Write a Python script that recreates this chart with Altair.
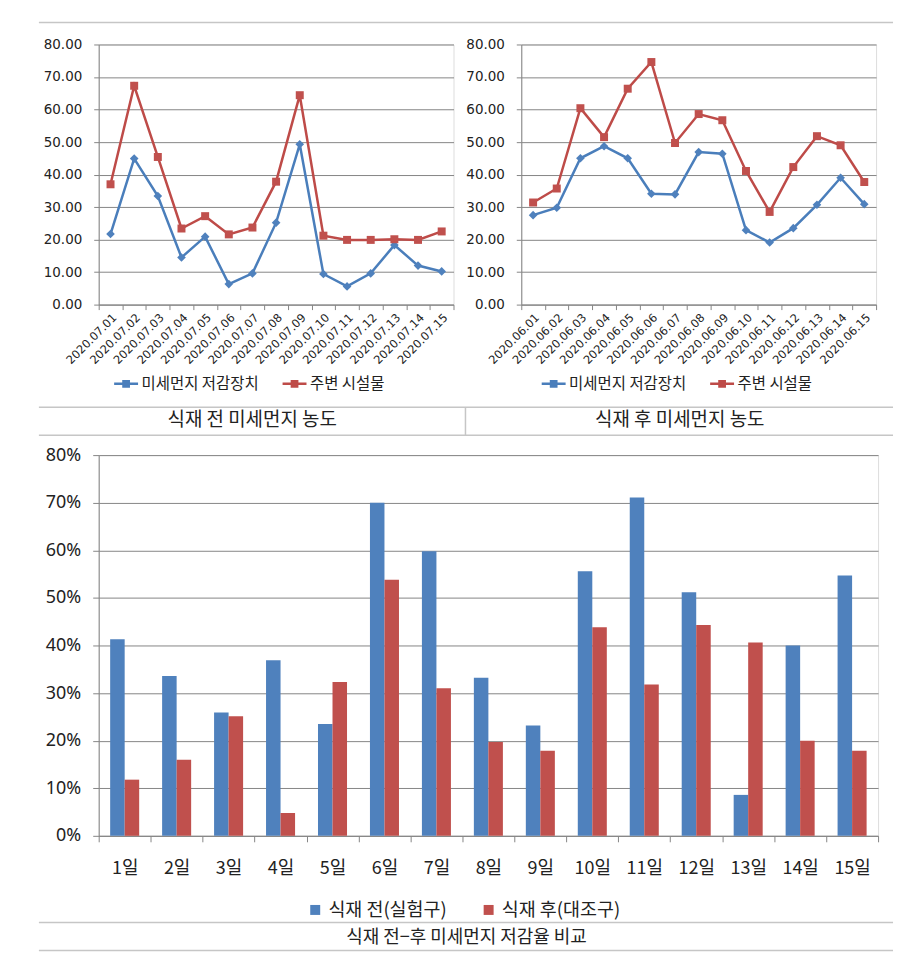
import altair as alt
import pandas as pd

# ---------------- data ----------------
july_dates = ["2020.07.01", "2020.07.02", "2020.07.03", "2020.07.04", "2020.07.05",
              "2020.07.06", "2020.07.07", "2020.07.08", "2020.07.09", "2020.07.10",
              "2020.07.11", "2020.07.12", "2020.07.13", "2020.07.14", "2020.07.15"]
july_device = [21.7, 44.9, 33.4, 14.5, 20.9, 6.3, 9.6, 25.2, 49.3, 9.4, 5.6, 9.6, 18.3, 12.0, 10.2]
july_nearby = [37.0, 67.3, 45.4, 23.4, 27.2, 21.6, 23.7, 37.8, 64.4, 21.2, 19.9, 19.9, 20.1, 19.9, 22.5]

june_dates = ["2020.06.01", "2020.06.02", "2020.06.03", "2020.06.04", "2020.06.05",
              "2020.06.06", "2020.06.07", "2020.06.08", "2020.06.09", "2020.06.10",
              "2020.06.11", "2020.06.12", "2020.06.13", "2020.06.14", "2020.06.15"]
june_device = [27.5, 29.8, 45.0, 48.7, 45.0, 34.1, 33.9, 46.9, 46.4, 22.9, 19.1, 23.5, 30.7, 39.0, 30.9]
june_nearby = [31.4, 35.7, 60.4, 51.5, 66.4, 74.6, 49.7, 58.6, 56.7, 41.1, 28.5, 42.3, 51.8, 49.0, 37.7]

line_series = ["미세먼지 저감장치", "주변 시설물"]
line_ticks = [0, 10, 20, 30, 40, 50, 60, 70, 80]

days = ["1일", "2일", "3일", "4일", "5일", "6일", "7일", "8일", "9일", "10일",
        "11일", "12일", "13일", "14일", "15일"]
bar_series = ["식재 전(실험구)", "식재 후(대조구)"]
rate_before = [41.3, 33.6, 25.9, 36.9, 23.5, 70.0, 59.8, 33.2, 23.2, 55.6, 71.1, 51.2, 8.6, 40.0, 54.7]
rate_after = [11.8, 16.0, 25.1, 4.8, 32.3, 53.8, 31.0, 19.7, 17.9, 43.8, 31.8, 44.3, 40.6, 20.0, 17.9]
bar_ticks = [0, 10, 20, 30, 40, 50, 60, 70, 80]

captions = ["식재 전 미세먼지 농도", "식재 후 미세먼지 농도", "식재 전−후 미세먼지 저감율 비교"]

# ---------------- styles ----------------
GRAY = "#868686"
SEP = "#c6c6c6"
BLUE_LINE = "#4A7EBB"
RED_LINE = "#BE4B48"
BLUE = "#4F81BD"
RED = "#C0504D"
KR = "Noto Sans CJK KR"

LEG_PATH = ("M-1,0H1M-0.22,-0.22H0.22V0.22H-0.22Z"
            "M-0.1,-0.1H0.1V0.1H-0.1Z")


def line_panel(dates, dev, near, leg_x):
    df = pd.DataFrame({
        "date": dates + dates,
        "value": dev + near,
        "series": [line_series[0]] * len(dates) + [line_series[1]] * len(dates),
    })
    x = alt.X("date:N", sort=dates,
              scale=alt.Scale(type="band", paddingInner=0, paddingOuter=0),
              axis=alt.Axis(title=None, labelAngle=315, labelAlign="right",
                            labelBaseline="top", tickBand="extent", tickSize=5,
                            labelPadding=2, labelFontSize=11.5, labelFont="DejaVu Sans",
                            labelColor="#222222", domainColor=GRAY, tickColor=GRAY,
                            grid=False))
    y = alt.Y("value:Q", scale=alt.Scale(domain=[0, 80], nice=False),
              axis=alt.Axis(title=None, values=line_ticks, format=".2f", grid=True,
                            gridColor=GRAY, domainColor=GRAY, tickColor=GRAY,
                            tickSize=5, labelPadding=12, labelFontSize=13.5,
                            labelFont="DejaVu Sans", labelColor="#222222"))
    base = alt.Chart(df)
    line = base.mark_line(strokeWidth=2.5).encode(
        x=x, y=y,
        color=alt.Color("series:N", sort=line_series,
                        scale=alt.Scale(domain=line_series, range=[BLUE_LINE, RED_LINE]),
                        legend=alt.Legend(title=None, orient="none", legendX=leg_x,
                                          legendY=327, direction="horizontal",
                                          symbolType=LEG_PATH, symbolSize=576,
                                          symbolStrokeWidth=2.5, labelFont=KR,
                                          labelFontSize=15.5, labelColor="#222222",
                                          columnPadding=18, labelOffset=2)),
    )
    p1 = base.transform_filter(alt.datum.series == line_series[0]).mark_point(
        shape="diamond", filled=True, size=75, color=BLUE, opacity=1).encode(x=x, y=y)
    p2 = base.transform_filter(alt.datum.series == line_series[1]).mark_point(
        shape="square", filled=True, size=64, color=RED, opacity=1).encode(x=x, y=y)
    return alt.layer(line, p1, p2).properties(width=356, height=261)


left = line_panel(july_dates, july_device, july_nearby, 14)
right = line_panel(june_dates, june_device, june_nearby, 19)

# ---------------- bar chart ----------------
df_bar = pd.DataFrame({
    "day": days + days,
    "rate": rate_before + rate_after,
    "group": [bar_series[0]] * len(days) + [bar_series[1]] * len(days),
})
bars = alt.Chart(df_bar).mark_bar().encode(
    x=alt.X("day:N", sort=days, scale=alt.Scale(paddingInner=0, paddingOuter=0),
            axis=alt.Axis(title=None, labelAngle=0, tickBand="extent", tickSize=6,
                          labelPadding=18, labelFontSize=18, labelFont=KR,
                          labelColor="#222222", domainColor=GRAY, tickColor=GRAY,
                          grid=False)),
    xOffset=alt.XOffset("group:N", sort=bar_series,
                        scale=alt.Scale(paddingInner=0, paddingOuter=0.79)),
    y=alt.Y("rate:Q", scale=alt.Scale(domain=[0, 80], nice=False),
            axis=alt.Axis(title=None, values=bar_ticks, labelExpr="datum.value + '%'",
                          grid=True, gridColor=GRAY, domainColor=GRAY, tickColor=GRAY,
                          tickSize=6, labelPadding=12, labelFontSize=18,
                          labelFont="Noto Sans", labelColor="#222222")),
    color=alt.Color("group:N", sort=bar_series,
                    scale=alt.Scale(domain=bar_series, range=[BLUE, RED]),
                    legend=alt.Legend(title=None, orient="none", legendX=208,
                                      legendY=447, direction="horizontal",
                                      symbolType="square", symbolSize=100,
                                      labelFont=KR, labelFontSize=18.5,
                                      labelColor="#222222", columnPadding=32,
                                      labelOffset=4)),
)

# ---------------- table-like separators and captions ----------------
one = pd.DataFrame({"k": [0]})


def hline(y, x1=-60, x2=797):
    return alt.Chart(one).mark_rule(color=SEP, strokeWidth=1.5).encode(
        x=alt.value(x1), x2=alt.value(x2), y=alt.value(y))


vline = alt.Chart(one).mark_rule(color=SEP, strokeWidth=1.5).encode(
    x=alt.value(368), y=alt.value(-48), y2=alt.value(-20))


def caption(text, x, y, size):
    return alt.Chart(one).mark_text(font=KR, fontSize=size, color="#222222",
                                    align="center", baseline="middle").encode(
        x=alt.value(x), y=alt.value(y), text=alt.value(text))


deco = [hline(-434), hline(-48), hline(-20), vline, hline(469), hline(497),
        caption(captions[0], 154, -35, 19), caption(captions[1], 583, -35, 19),
        caption(captions[2], 369, 485, 18)]

bottom = alt.layer(bars, *deco).properties(width=782, height=382)

top = alt.hconcat(left, right, spacing=68, bounds="flush").resolve_scale(
    color="independent").resolve_legend(color="independent")

chart = alt.vconcat(top, bottom, spacing=412, bounds="flush").resolve_scale(
    color="independent").resolve_legend(color="independent").properties(
    padding={"left": 29, "top": 11, "right": 5, "bottom": 5}
).configure_view(strokeWidth=0).configure(background="white")

chart.save("out.html", embed_options={"renderer": "svg", "actions": False})
